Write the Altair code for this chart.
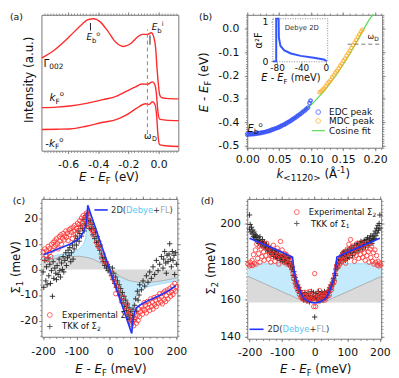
import altair as alt
import pandas as pd

FONT = "DejaVu Sans"
INK = "#111111"
FRAME = "#777777"
RED = "#ff2a2a"
BLUE = "#2233ff"
LBLUE = "#c4eafb"
GRAYF = "#dadada"

# ---------------- panel (a): EDC spectra ----------------
a_g_e = [-0.774, -0.697, -0.588, -0.522, -0.468, -0.431, -0.391, -0.337, -0.282, -0.234, -0.184, -0.140,
         -0.107, -0.074, -0.048, -0.031, -0.020, -0.011, -0.002, 0.007, 0.020, 0.050, 0.133]
a_g_i = [0.683, 0.736, 0.844, 0.916, 0.964, 0.971, 0.952, 0.880, 0.796, 0.767, 0.789, 0.837,
         0.856, 0.856, 0.868, 0.832, 0.760, 0.617, 0.496, 0.412, 0.390, 0.385, 0.381]
a_k_e = [-0.774, -0.675, -0.588, -0.479, -0.369, -0.282, -0.216, -0.150, -0.111, -0.074, -0.041, -0.024,
         -0.015, -0.006, 0.007, 0.046, 0.133]
a_k_i = [0.317, 0.321, 0.329, 0.348, 0.376, 0.400, 0.436, 0.472, 0.491, 0.489, 0.506, 0.484,
         0.424, 0.304, 0.232, 0.225, 0.221]
a_m_e = [-0.774, -0.675, -0.588, -0.479, -0.369, -0.282, -0.216, -0.150, -0.085, -0.063, -0.041, -0.024,
         -0.013, -0.004, 0.007, 0.046, 0.133]
a_m_i = [0.156, 0.158, 0.160, 0.180, 0.209, 0.228, 0.261, 0.309, 0.345, 0.340, 0.360, 0.340,
         0.257, 0.113, 0.045, 0.036, 0.031]
a_wd = -0.074

# ---------------- panel (b): dispersion ----------------
b_edc_k = [0.000, 0.0025, 0.005, 0.0075, 0.010, 0.0125, 0.015, 0.0175, 0.020, 0.0225, 0.025, 0.0275, 0.030,
           0.0325, 0.035, 0.0375, 0.040, 0.0425, 0.045, 0.0475, 0.050, 0.0525, 0.055, 0.0575, 0.060, 0.0625,
           0.065, 0.0675, 0.070, 0.0725, 0.075, 0.0775, 0.080, 0.0825, 0.085, 0.0875, 0.090, 0.0925, 0.095,
           0.0975, 0.099]
b_edc_e = [-0.452, -0.452, -0.452, -0.451, -0.451, -0.450, -0.449, -0.448, -0.447, -0.446, -0.444, -0.443,
           -0.441, -0.439, -0.437, -0.434, -0.432, -0.429, -0.427, -0.424, -0.421, -0.418, -0.414, -0.411,
           -0.407, -0.403, -0.399, -0.395, -0.390, -0.386, -0.381, -0.376, -0.371, -0.366, -0.361, -0.355,
           -0.350, -0.344, -0.338, -0.318, -0.308]
b_mdc_k = [0.113, 0.1155, 0.118, 0.1205, 0.123, 0.1255, 0.128, 0.1305, 0.133, 0.1355, 0.138, 0.1405, 0.143,
           0.1455, 0.148, 0.1505, 0.153, 0.1555, 0.158, 0.1605, 0.163, 0.1655, 0.168, 0.1705, 0.173, 0.1755,
           0.178, 0.180]
b_mdc_e = [-0.272, -0.268, -0.261, -0.255, -0.246, -0.235, -0.227, -0.219, -0.207, -0.199, -0.188, -0.180,
           -0.170, -0.158, -0.149, -0.137, -0.128, -0.115, -0.104, -0.094, -0.082, -0.070, -0.059, -0.048,
           -0.035, -0.024, -0.012, -0.004]
b_fit_k = [0.0, 0.02, 0.04, 0.06, 0.08, 0.10, 0.12, 0.14, 0.16, 0.17, 0.18, 0.19, 0.197]
b_fit_e = [-0.452, -0.447, -0.432, -0.407, -0.371, -0.326, -0.268, -0.196, -0.110, -0.062, -0.012, 0.036, 0.062]
b_wd = -0.066
# inset: Debye 2D alpha^2F
ins_e = [-87, -81.5, -81.5, -77.5, -77.1, -74.5, -68.1, -57.4, -41.3, -19.7, -3.5, 0, 0]
ins_a = [0, 0, 1.08, 1.08, 0.60, 0.39, 0.28, 0.20, 0.14, 0.09, 0.05, 0.02, 0]

# ---------------- panel (c): Sigma_1 ----------------
c_exp = [(-200, 6.8), (-198, 4.2), (-195, 8.0), (-192, 5.5), (-190, 7.2), (-187, 3.8), (-185, 9.0), (-182, 6.5),
         (-180, 8.2), (-177, 5.0), (-175, 9.8), (-172, 7.5), (-170, 10.5), (-167, 8.8), (-165, 11.2), (-162, 9.5),
         (-160, 12.0), (-157, 10.2), (-155, 8.0), (-152, 12.8), (-150, 11.0), (-147, 13.5), (-145, 9.8),
         (-142, 12.2), (-140, 14.0), (-137, 11.5), (-135, 13.0), (-132, 15.0), (-130, 12.5), (-127, 14.2),
         (-125, 11.2), (-122, 15.5), (-120, 13.5), (-117, 16.0), (-115, 14.5), (-112, 12.0), (-110, 16.5),
         (-107, 15.0), (-105, 17.2), (-102, 13.8), (-100, 16.0), (-97, 18.0), (-95, 15.2), (-92, 17.5), (-90, 19.0),
         (-87, 16.5), (-85, 20.0), (-82, 18.2), (-80, 21.0), (-77, 19.5), (-75, 17.0), (-72, 20.5), (-70, 22.0),
         (-67, 19.0), (-65, 21.5), (-62, 20.5), (-60, 17.5), (-57, 16.0), (-55, 18.5), (-52, 15.0), (-50, 13.5),
         (-45, 14.5), (-40, 10.5), (-35, 9.0), (-30, 8.5), (-25, 4.5), (-20, 6.0), (-15, 3.0), (-10, 2.5),
         (5, -1.5), (10, -3.5), (15, -5.0), (18, -9.5), (20, -6.5), (25, -8.0), (30, -10.0), (35, -12.5), (40, -11.0),
         (45, -14.5), (50, -16.0), (52, -13.5), (55, -17.5), (58, -19.0), (60, -16.5), (62, -20.5), (65, -21.5),
         (67, -18.5), (70, -20.0), (72, -22.0), (75, -19.5), (78, -17.5), (80, -21.0), (83, -18.0), (85, -20.0),
         (88, -15.5), (90, -18.5), (93, -16.5), (95, -14.5), (98, -17.5), (100, -15.5), (103, -13.0), (105, -16.0),
         (108, -14.0), (110, -17.0), (113, -12.5), (115, -15.0), (118, -13.5), (120, -16.0), (123, -11.5),
         (125, -14.5), (128, -12.8), (130, -15.5), (133, -11.0), (135, -13.8), (138, -12.0), (140, -14.5),
         (143, -10.5), (145, -13.2), (148, -11.5), (150, -9.5), (153, -12.8), (155, -10.8), (158, -13.5), (160, -9.2),
         (163, -11.8), (165, -8.5), (168, -12.5), (170, -10.2), (173, -8.0), (175, -11.5), (178, -9.2), (180, -7.5),
         (183, -10.5), (185, -8.8), (188, -6.5), (190, -9.8), (193, -7.8), (195, -5.5), (198, -8.5), (200, -6.8)]
c_tkk = [(-200, -1.0), (-198, -7.0), (-195, 3.5), (-192, -4.5), (-190, 1.0), (-188, -6.0), (-185, 4.5), (-183, -2.5),
         (-180, 2.0), (-178, -5.5), (-175, -0.5), (-172, -10.5), (-170, 3.0), (-168, -3.5), (-165, 0.5), (-162, -1.5),
         (-160, -4.0), (-158, 1.5), (-155, -2.0), (-152, 4.0), (-150, -0.5), (-148, -3.0), (-145, 2.5), (-142, 0.0),
         (-140, 5.0), (-138, -1.0), (-135, 3.5), (-132, 6.5), (-130, 1.5), (-127, 4.5), (-125, 7.5), (-122, 5.5),
         (-120, 8.5), (-117, 3.0), (-115, 6.5), (-112, 9.5), (-110, 4.0), (-107, 8.0), (-105, 11.0), (-102, 13.0),
         (-100, 9.5), (-97, 12.0), (-95, 15.0), (-92, 11.0), (-90, 14.0), (-87, 17.0), (-85, 13.0), (-82, 16.0),
         (-80, 19.5), (-77, 15.0), (-75, 18.0), (-72, 21.0), (-70, 17.0), (-68, 20.0), (-65, 22.0), (-63, 18.5),
         (-60, 16.0), (-58, 19.0), (-55, 15.5), (-53, 17.5), (-50, 13.5), (-48, 16.0), (-45, 12.0), (-43, 14.5),
         (-40, 10.5), (-38, 12.8), (-35, 9.0), (-33, 11.0), (-30, 7.5), (-28, 9.5), (-25, 6.0), (-22, 4.5),
         (-20, 3.0), (-17, 4.5), (-15, 1.5), (-12, 3.0), (-10, 0.5), (-7, 2.0), (-5, -0.5), (-2, 1.0),
         (2, -1.0), (5, -2.5), (8, 0.5), (10, -4.0), (12, -1.5), (15, -5.5), (18, -3.0), (20, -7.0), (23, -4.5),
         (25, -8.5), (28, -6.0), (30, -10.0), (33, -7.5), (35, -11.5), (38, -9.0), (40, -13.0), (43, -10.5),
         (45, -14.5), (48, -12.0), (50, -16.0), (53, -13.5), (55, -17.5), (58, -15.0), (60, -19.0), (63, -16.5),
         (65, -20.5), (68, -18.0), (70, -15.5), (72, -19.5), (75, -14.0), (78, -11.5), (80, -16.5), (83, -8.5),
         (85, -12.0), (88, -10.0), (90, -6.0), (95, -8.0), (100, -4.5), (105, -6.5), (110, -2.5), (115, -5.0),
         (120, -1.0), (125, -3.5), (130, 1.0), (135, -2.0), (140, 3.5), (145, -0.5), (150, 2.0), (155, 5.0),
         (160, 0.5), (162, 4.0), (165, 7.0), (168, 2.5), (170, -1.5), (172, 5.5), (175, 3.0), (178, 6.0),
         (180, 10.0), (182, 4.0), (185, 1.0), (188, 7.0), (190, 3.5), (193, 5.5), (195, -2.0), (198, 6.5), (200, 2.0)]
c_line_e = [-198, -180, -160, -140, -120, -100, -90, -80, -75, -70, -66, 0, 66, 70, 75, 80, 90, 100, 120, 140, 160, 180, 199]
c_line_s = [5.7, 6.7, 7.8, 8.7, 9.8, 11.3, 12.4, 14.3, 15.8, 18.6, 25.0, 0.0, -25.0, -19.5, -16.5, -15.0, -14.0,
            -13.2, -11.9, -10.8, -9.5, -8.0, -6.3]
c_fill_e = [-205, -180, -160, -140, -120, -100, -90, -80, -75, -70, -66, -50, -33, -17, 0,
            17, 33, 50, 66, 70, 75, 80, 90, 100, 120, 140, 160, 180, 203]
c_fl = [3.3, 3.9, 4.4, 4.8, 5.0, 5.1, 5.1, 4.9, 4.8, 4.7, 4.6, 4.0, 2.9, 1.5, 0,
        -1.5, -2.9, -4.0, -4.6, -4.7, -4.8, -4.9, -5.1, -5.1, -5.0, -4.8, -4.4, -3.9, -3.3]
c_debye = [4.4, 5.0, 5.5, 6.0, 6.6, 7.4, 8.2, 9.6, 11.0, 14.5, 24.5, 18.5, 12.3, 6.3, 0,
           -6.3, -12.3, -18.5, -24.5, -14.5, -11.0, -9.6, -8.2, -7.4, -6.6, -6.0, -5.5, -5.0, -4.4]

# ---------------- panel (d): Sigma_2 ----------------
d_exp = [(-205, 178.5), (-200, 177.5), (-198, 179.5), (-195, 178.0), (-192, 180.5), (-190, 177.8), (-188, 183.5),
         (-185, 179.0), (-182, 186.0), (-180, 178.5), (-178, 189.0), (-175, 181.5), (-172, 184.0), (-170, 188.0),
         (-168, 179.5), (-165, 186.5), (-162, 182.5), (-160, 190.0), (-157, 185.0), (-155, 180.5), (-152, 187.5),
         (-150, 183.0), (-147, 189.5), (-145, 185.5), (-142, 181.0), (-140, 187.0), (-137, 183.5), (-135, 179.5),
         (-132, 186.0), (-130, 182.5), (-127, 188.5), (-125, 184.0), (-122, 180.0), (-120, 185.5), (-117, 182.0),
         (-115, 187.0), (-112, 183.0), (-110, 178.5), (-107, 184.5), (-105, 190.5), (-102, 181.5), (-100, 186.0),
         (-97, 182.5), (-95, 179.5), (-92, 184.0), (-90, 180.5), (-87, 183.5), (-85, 178.5), (-82, 181.5),
         (-80, 179.0), (-77, 182.0), (-75, 177.5), (-72, 180.0), (-70, 176.5), (-67, 174.0), (-65, 171.0),
         (-62, 172.5), (-60, 168.5), (-57, 166.5), (-55, 169.0), (-52, 164.5), (-50, 166.0), (-47, 162.5),
         (-45, 164.0), (-42, 161.0), (-40, 162.5), (-37, 160.0), (-35, 163.5), (-32, 161.5), (-30, 159.5),
         (-27, 162.0), (-25, 160.5), (-22, 163.5), (-20, 159.0), (-17, 161.5), (-15, 164.0), (-12, 160.0),
         (-10, 162.5), (-7, 159.5), (-5, 161.0), (-3, 156.0), (0, 173.5),
         (3, 156.0), (5, 160.5), (7, 163.0), (10, 159.0), (12, 161.5), (15, 164.5), (17, 160.0), (20, 162.0),
         (22, 159.5), (25, 163.0), (27, 160.5), (30, 162.5), (32, 159.5), (35, 161.0), (37, 163.5), (40, 161.5),
         (42, 164.0), (45, 162.0), (47, 165.5), (50, 167.0), (52, 165.0), (55, 168.0), (57, 170.5), (60, 169.0),
         (62, 173.0), (65, 175.5), (67, 177.5), (70, 179.0), (72, 177.0), (75, 180.5), (77, 178.5), (80, 182.0),
         (82, 179.5), (85, 183.5), (87, 180.5), (90, 185.0), (92, 181.0), (95, 179.0), (97, 184.0), (100, 186.5),
         (102, 182.0), (105, 189.0), (107, 184.5), (110, 191.5), (112, 186.0), (115, 182.5), (117, 188.0),
         (120, 184.5), (122, 180.0), (125, 186.5), (127, 183.0), (130, 189.5), (132, 185.5), (135, 181.5),
         (137, 187.5), (140, 183.5), (142, 190.0), (145, 186.0), (147, 182.0), (150, 188.5), (152, 184.5),
         (155, 180.5), (157, 187.0), (160, 183.0), (162, 189.5), (165, 185.0), (167, 179.5), (170, 186.5),
         (172, 182.0), (175, 188.0), (177, 180.0), (180, 184.5), (182, 178.5), (185, 186.0), (187, 179.5),
         (190, 183.0), (192, 178.0), (195, 180.0), (197, 177.5), (200, 179.0), (203, 178.0)]
d_tkk = [(-200, 204.5), (-200, 197.0), (-198, 199.5), (-196, 195.5), (-194, 198.0), (-192, 194.5), (-190, 196.5),
         (-188, 193.0), (-186, 195.5), (-184, 192.5), (-182, 194.0), (-180, 191.5), (-178, 193.5), (-176, 190.5),
         (-174, 192.5), (-172, 189.5), (-170, 191.0), (-168, 193.0), (-166, 189.0), (-164, 190.5), (-162, 188.0),
         (-160, 191.5), (-158, 189.5), (-156, 187.5), (-154, 190.0), (-152, 188.5), (-150, 186.5), (-148, 189.0),
         (-146, 187.0), (-144, 185.5), (-142, 188.0), (-140, 186.0), (-138, 184.5), (-136, 187.0), (-134, 185.0),
         (-132, 183.5), (-130, 186.0), (-128, 184.5), (-126, 182.5), (-124, 185.0), (-122, 183.5), (-120, 185.5),
         (-118, 182.0), (-116, 184.0), (-114, 181.5), (-112, 183.5), (-110, 185.0), (-108, 182.0), (-106, 180.5),
         (-104, 183.0), (-102, 181.0), (-100, 182.5), (-98, 180.0), (-96, 183.5), (-94, 181.0), (-92, 179.5),
         (-90, 182.0), (-88, 180.5), (-86, 183.0), (-84, 179.0), (-82, 181.5), (-80, 178.5), (-78, 180.0),
         (-76, 182.0), (-74, 177.5), (-72, 179.0), (-70, 175.5), (-68, 177.0), (-66, 172.5), (-64, 174.5),
         (-62, 170.0), (-60, 171.5), (-58, 168.0), (-56, 169.5), (-54, 166.5), (-52, 167.5), (-50, 164.5),
         (-48, 166.0), (-46, 163.0), (-44, 164.5), (-42, 161.5), (-40, 163.0), (-38, 160.5), (-36, 162.0),
         (-34, 159.5), (-32, 161.0), (-30, 163.5), (-28, 160.0), (-26, 162.0), (-24, 159.0), (-22, 161.5),
         (-20, 163.0), (-18, 160.5), (-16, 158.5), (-14, 162.0), (-12, 160.0), (-10, 164.0), (-8, 159.5),
         (-6, 161.5), (-4, 163.5), (-2, 160.5), (0, 150.5),
         (2, 161.0), (4, 163.0), (6, 159.5), (8, 162.0), (10, 160.0), (12, 164.0), (14, 161.0), (16, 159.0),
         (18, 162.5), (20, 160.5), (22, 163.5), (24, 161.0), (26, 159.5), (28, 162.5), (30, 164.0), (32, 160.5),
         (34, 162.5), (36, 161.0), (38, 163.5), (40, 162.0), (42, 164.5), (44, 163.5), (46, 166.0), (48, 165.0),
         (50, 167.5), (52, 166.5), (54, 169.0), (56, 168.0), (58, 171.0), (60, 170.0), (62, 173.5), (64, 172.5),
         (66, 176.0), (68, 178.0), (70, 176.5), (72, 179.5), (74, 181.0), (76, 179.0), (78, 182.5), (80, 180.5),
         (82, 183.0), (84, 181.0), (86, 184.5), (88, 182.5), (90, 185.0), (92, 183.0), (94, 180.5), (96, 185.5),
         (98, 183.5), (100, 181.5), (102, 186.0), (104, 184.0), (106, 182.0), (108, 186.5), (110, 184.5),
         (112, 187.5), (114, 185.0), (116, 183.0), (118, 187.0), (120, 185.5), (122, 188.5), (124, 186.0),
         (126, 184.5), (128, 188.5), (130, 186.5), (132, 189.5), (134, 187.0), (136, 185.5), (138, 189.0),
         (140, 187.5), (142, 190.5), (144, 188.0), (146, 186.5), (148, 190.0), (150, 188.5), (152, 191.0),
         (154, 189.0), (156, 187.5), (158, 191.5), (160, 189.5), (162, 192.5), (164, 190.0), (166, 188.5),
         (168, 192.0), (170, 190.5), (172, 193.5), (174, 191.0), (176, 189.5), (178, 193.0), (180, 191.5),
         (182, 194.5), (184, 192.0), (186, 196.0), (188, 193.5), (190, 197.5), (192, 195.0), (194, 199.0),
         (196, 196.5), (198, 200.0), (200, 197.5), (200, 204.5)]
d_line_e = [-200, -150, -100, -75, -68, -66, -62, -55, -47, -40, -32, -20, -10, 0, 10, 20, 32, 40, 47, 55, 62, 66,
            68, 75, 100, 150, 200]
d_line_s = [192.2, 188.5, 184.8, 182.7, 182.2, 179.0, 174.0, 169.0, 165.0, 162.3, 160.2, 158.8, 158.2, 158.0,
            158.2, 158.8, 160.2, 162.3, 165.0, 169.0, 174.0, 179.0, 182.2, 182.7, 184.8, 188.5, 192.2]
d_fill_e = [-207, -150, -100, -70, -68, -62, -55, -47, -40, -32, -25, -15, 0, 15, 25, 32, 40, 47, 55, 62, 68, 70,
            100, 150, 204]
d_debye = [178.7, 178.7, 178.7, 178.7, 178.5, 173.0, 168.0, 164.5, 162.0, 159.8, 158.8, 158.3, 158.2, 158.3,
           158.8, 159.8, 162.0, 164.5, 168.0, 173.0, 178.5, 178.7, 178.7, 178.7, 178.7]
d_fl = [172.2, 167.8, 163.9, 161.6, 161.5, 161.0, 160.5, 159.8, 159.3, 158.7, 158.2, 158.2, 158.2, 158.2, 158.2,
        158.7, 159.3, 159.8, 160.5, 161.0, 161.5, 161.6, 163.9, 167.8, 172.0]
d_base = 158.2

# ---------------- helpers ----------------
CW = {' ': 0.318, '(': 0.390, ')': 0.390, '+': 0.838, '-': 0.361, '.': 0.318, '<': 0.838, '>': 0.838,
      'A': 0.684, 'C': 0.698, 'D': 0.770, 'E': 0.632, 'F': 0.575, 'I': 0.295, 'K': 0.656, 'L': 0.557,
      'T': 0.611, 'a': 0.613, 'b': 0.635, 'e': 0.615, 'f': 0.352, 'i': 0.278, 'k': 0.579, 'l': 0.278,
      'm': 0.974, 'n': 0.634, 'o': 0.612, 'p': 0.635, 'r': 0.411, 's': 0.521, 't': 0.392, 'u': 0.634,
      'v': 0.592, 'x': 0.592, 'y': 0.592, '\u03a3': 0.632, '\u03c9': 0.878, '\u03b1': 0.659, '\u0393': 0.557,
      '\u00c5': 0.684, '\u00b2': 0.401, '\u0304': 0.0}
for _d in '0123456789':
    CW[_d] = 0.636


def tw(s, size):
    return sum(CW.get(ch, 0.6) for ch in s) * size


def txt(s, x, y, size, angle=0, align='left', baseline='alphabetic', style='normal', color=INK):
    return alt.Chart(pd.DataFrame({'t': [s]})).mark_text(
        align=align, baseline=baseline, angle=angle, font=FONT, fontSize=size, fontStyle=style, color=color
    ).encode(text='t:N', x=alt.value(x), y=alt.value(y))


def rich(pieces, x, y, angle=0, center=True, sx=None, sy=None):
    total = sum(tw(p[0], p[1]) for p in pieces)
    off = -total / 2.0 if center else 0.0
    out = []
    for p in pieces:
        text, size = p[0], p[1]
        shift = p[2] if len(p) > 2 else 0
        style = p[3] if len(p) > 3 else 'normal'
        color = p[4] if len(p) > 4 else INK
        lead = len(text) - len(text.lstrip(' '))
        body = text.strip(' ')
        if body:
            m = alt.Chart(pd.DataFrame({'t': [body], 'x': [x], 'y': [y]})).mark_text(
                align='left', baseline='alphabetic', dx=off + tw(' ' * lead, size), dy=shift, angle=angle,
                font=FONT, fontSize=size, fontStyle=style, color=color)
            if sx is None:
                m = m.encode(text='t:N', x=alt.value(x), y=alt.value(y))
            else:
                m = m.encode(text='t:N', x=alt.X('x:Q', scale=sx, axis=None), y=alt.Y('y:Q', scale=sy, axis=None))
            out.append(m)
        off += tw(text, size)
    return out


def lab_expr(fmt):
    return "replace(format(datum.value,'%s'),'\u2212','-')" % fmt


def mk_axis(orient, vals, size, fmt=None, pad=0, fsize=11, offset=0):
    kw = dict(orient=orient, values=vals, tickSize=size, tickColor=FRAME, tickWidth=0.8, domain=False,
              grid=False, labelOverlap=False, offset=offset)
    if fmt:
        kw.update(labels=True, labelExpr=lab_expr(fmt), labelFont=FONT, labelFontSize=fsize, labelColor=INK,
                  labelPadding=pad, labelFlush=False)
    else:
        kw.update(labels=False)
    return alt.Axis(**kw)


def axis_layers(sx, sy, x0, y0, xmaj, xmin, ymaj, ymin, xfmt, yfmt, xpad, ypad, yticks=True):
    base = alt.Chart(pd.DataFrame({'x': [x0], 'y': [y0]})).mark_point(opacity=0)
    specs = [('bottom', 'left', xmaj, ymaj, 3, xfmt, yfmt), ('bottom', 'left', xmin, ymin, 1.8, None, None),
             ('top', 'right', xmaj, ymaj, 3, None, None), ('top', 'right', xmin, ymin, 1.8, None, None)]
    out = []
    for xo, yo, xv, yv, sz, xf, yf in specs:
        yax = mk_axis(yo, yv, sz, yf, ypad) if yticks else None
        out.append(base.encode(x=alt.X('x:Q', scale=sx, title=None, axis=mk_axis(xo, xv, sz, xf, xpad)),
                               y=alt.Y('y:Q', scale=sy, title=None, axis=yax)))
    return out


def steps(a, b, st):
    n = int(round((b - a) / st))
    return [round(a + st * i, 4) for i in range(n + 1)]


def ef_title(unit, size=12, sub=8.5):
    return [("E", size, 0, 'italic'), (" - ", size), ("E", size, 0, 'italic'), ("F", sub, 3), (" (" + unit + ")", size)]


PLUS = "M-1,0L1,0M0,-1L0,1"

# ================= panel (a) =================
WA, HA = 139, 138
sxa = alt.Scale(domain=[-0.777, 0.131])
sya = alt.Scale(domain=[0.0, 1.0])
a_df = pd.concat([pd.DataFrame({'e': a_g_e, 'i': a_g_i, 's': 'g'}),
                  pd.DataFrame({'e': a_k_e, 'i': a_k_i, 's': 'k'}),
                  pd.DataFrame({'e': a_m_e, 'i': a_m_i, 's': 'm'})])
XA = lambda f: alt.X(f, scale=sxa, axis=None)
YA = lambda f: alt.Y(f, scale=sya, axis=None)
la = [alt.Chart(a_df).mark_line(color=RED, strokeWidth=1.4, interpolate='monotone').encode(
    x=XA('e:Q'), y=YA('i:Q'), detail='s:N')]
la.append(alt.Chart(pd.DataFrame({'x': [a_wd], 'y': [0.122], 'y2': [0.892]})).mark_rule(
    color='#888888', strokeDash=[4, 3], strokeWidth=1).encode(x=XA('x:Q'), y=YA('y:Q'), y2='y2:Q'))
la.append(alt.Chart(pd.DataFrame({'x': [-0.452, -0.057], 'y': [0.885, 0.78], 'y2': [0.94, 0.849]})).mark_rule(
    color='#222222', strokeWidth=1).encode(x=XA('x:Q'), y=YA('y:Q'), y2='y2:Q'))
la += rich([("\u0393", 10.5), ("002", 7.5, 2.5)], -0.763, 0.619, center=False, sx=sxa, sy=sya)
la += rich([("k", 10.5, 0, 'italic'), ("F", 7.5, 2.5), ("o", 7, -5)], -0.723, 0.365, center=False, sx=sxa, sy=sya)
la += rich([("-", 10.5), ("k", 10.5, 0, 'italic'), ("F", 7.5, 2.5), ("o", 7, -5)], -0.752, 0.029, center=False,
           sx=sxa, sy=sya)
la += rich([("E", 9, 0, 'italic'), ("b", 7, 2.5), ("o", 6.5, -4.5)], -0.479, 0.813, center=False, sx=sxa, sy=sya)
la += rich([("E", 9, 0, 'italic'), ("b", 7, 2.5), ("i", 6.5, -4.5)], -0.046, 0.885, center=False, sx=sxa, sy=sya)
la += rich([("\u03c9", 9), ("D", 6.5, 2.5)], -0.096, 0.086, center=False, sx=sxa, sy=sya)
la += rich(ef_title("eV"), 68, 169)
la.append(txt("Intensity (a.u.)", -9, 66, 12, angle=270, align='center'))
la.append(txt("(a)", -32, -3, 9.5, baseline='top'))
la += axis_layers(sxa, sya, -0.7, 0.5, [-0.6, -0.4, -0.2, 0.0], steps(-0.76, 0.12, 0.02), None, None,
                  '.1f', None, 5, 0, yticks=False)
pa = alt.layer(*la).resolve_scale(x='independent', y='independent').properties(width=WA, height=HA)

# ================= panel (b) =================
WB, HB = 137, 135
sxb = alt.Scale(domain=[0.0, 0.211])
syb = alt.Scale(domain=[-0.51, 0.06])
XB = lambda f: alt.X(f, scale=sxb, axis=None)
YB = lambda f: alt.Y(f, scale=syb, axis=None)
lb = [alt.Chart(pd.DataFrame({'k': b_fit_k, 'e': b_fit_e})).mark_line(color='#55dd55', strokeWidth=1.2).encode(
    x=XB('k:Q'), y=YB('e:Q'))]
lb.append(alt.Chart(pd.DataFrame({'k': b_edc_k, 'e': b_edc_e})).mark_point(
    shape='circle', filled=False, size=12, strokeWidth=1.5, color='#3048ff').encode(x=XB('k:Q'), y=YB('e:Q')))
lb.append(alt.Chart(pd.DataFrame({'k': b_mdc_k, 'e': b_mdc_e})).mark_point(
    shape='circle', filled=False, size=12, strokeWidth=1.3, color='#ffaa22').encode(x=XB('k:Q'), y=YB('e:Q')))
lb.append(alt.Chart(pd.DataFrame({'x': [0.157], 'x2': [0.211], 'y': [b_wd]})).mark_rule(
    color='#777777', strokeDash=[4, 3], strokeWidth=1).encode(x=XB('x:Q'), x2='x2:Q', y=YB('y:Q')))
lb += rich([("\u03c9", 8), ("D", 6, 2)], 0.188, -0.045, center=False, sx=sxb, sy=syb)
lb += rich([("E", 10, 0, 'italic'), ("b", 7.5, 2.5), ("o", 7, -5)], 0.0005, -0.441, center=False, sx=sxb, sy=syb)
# legend (b)
lb.append(alt.Chart(pd.DataFrame({'x': [0.111], 'y': [-0.357]})).mark_point(
    shape='circle', filled=False, size=22, strokeWidth=1, color='#3048ff').encode(x=XB('x:Q'), y=YB('y:Q')))
lb.append(alt.Chart(pd.DataFrame({'x': [0.111], 'y': [-0.395]})).mark_point(
    shape='circle', filled=False, size=22, strokeWidth=1, color='#ffaa22').encode(x=XB('x:Q'), y=YB('y:Q')))
lb.append(alt.Chart(pd.DataFrame({'x': [0.101], 'x2': [0.1215], 'y': [-0.437]})).mark_rule(
    color='#55dd55', strokeWidth=1.2).encode(x=XB('x:Q'), x2='x2:Q', y=YB('y:Q')))
b_leg = pd.DataFrame({'t': ["EDC peak", "MDC peak", "Cosine fit"], 'x': [0.128] * 3, 'y': [-0.357, -0.395, -0.437]})
lb.append(alt.Chart(b_leg).mark_text(align='left', baseline='middle', font=FONT, fontSize=9, color=INK).encode(
    text='t:N', x=XB('x:Q'), y=YB('y:Q')))
# inset
sxi = alt.Scale(domain=[-87, 3], range=[26, 81.7])
syi = alt.Scale(domain=[-0.01, 1.08], range=[47.7, 4])
XI = lambda f: alt.X(f, scale=sxi, axis=None)
YI = lambda f: alt.Y(f, scale=syi, axis=None)
lb.append(alt.Chart(pd.DataFrame({'x': [-87], 'x2': [3], 'y': [-0.01], 'y2': [1.08]})).mark_rect(
    fill='white', stroke='#888888', strokeDash=[1, 1.5], strokeWidth=1).encode(
    x=XI('x:Q'), x2='x2:Q', y=YI('y:Q'), y2='y2:Q'))
lb.append(alt.Chart(pd.DataFrame({'e': ins_e, 'a': ins_a, 'o': list(range(len(ins_e)))})).mark_line(
    color='#3355ff', strokeWidth=2).encode(x=XI('e:Q'), y=YI('a:Q'), order='o:Q'))
lb.append(alt.Chart(pd.DataFrame({'t': ["Debye 2D"], 'x': [-39.5], 'y': [0.85]})).mark_text(
    align='center', baseline='middle', font=FONT, fontSize=7, color='#333333').encode(
    text='t:N', x=XI('x:Q'), y=YI('y:Q')))
lb.append(alt.Chart(pd.DataFrame({'x': [-87.0], 'y': [0.0]})).mark_point(opacity=0).encode(
    x=alt.X('x:Q', scale=sxi, title=None, axis=mk_axis('bottom', [-80, -40, 0], 2, 'd', 0, 9, offset=47.7 - HB)),
    y=alt.Y('y:Q', scale=syi, title=None, axis=mk_axis('left', [0, 1], 2, 'd', 3, 9.5, offset=-26))))
lb.append(txt("\u03b1\u00b2F", 15, 26, 10, angle=270, align='center'))
lb += rich(ef_title("meV", 10, 7), 44, 67.5)
# titles (b)
lb += rich([("k", 12, 0, 'italic'), ("<112\u03040>", 9, 3), (" (\u00c5", 12), ("-1", 8.5, -5), (")", 12)], 67, 166)
lb += rich(ef_title("eV"), -40, 69, angle=270)
lb.append(txt("(b)", -49, -3, 9.5, baseline='top'))
lb += axis_layers(sxb, syb, 0.1, -0.2, [0.0, 0.05, 0.10, 0.15, 0.20], steps(0.0, 0.21, 0.01),
                  [-0.5, -0.4, -0.3, -0.2, -0.1, 0.0], steps(-0.51, 0.06, 0.01), '.2f', '.1f', 3, 5.5)
pb = alt.layer(*lb).resolve_scale(x='independent', y='independent').properties(width=WB, height=HB)

# ================= panel (c) =================
WC, HC = 138, 140
sxc = alt.Scale(domain=[-205, 203])
syc = alt.Scale(domain=[-26.3, 27.5])
XC = lambda f: alt.X(f, scale=sxc, axis=None)
YC = lambda f: alt.Y(f, scale=syc, axis=None)
c_fill = pd.DataFrame({'e': c_fill_e, 'fl': c_fl, 'db': c_debye, 'z': [0.0] * len(c_fill_e)})
lc = [alt.Chart(c_fill).mark_area(color=GRAYF).encode(x=XC('e:Q'), y=YC('fl:Q'), y2='z:Q'),
      alt.Chart(c_fill).mark_area(color=LBLUE).encode(x=XC('e:Q'), y=YC('db:Q'), y2='fl:Q'),
      alt.Chart(c_fill).mark_line(color='#a0a0a0', strokeWidth=0.8).encode(x=XC('e:Q'), y=YC('fl:Q')),
      alt.Chart(c_fill).mark_line(color='#8fd3f3', strokeWidth=0.8).encode(x=XC('e:Q'), y=YC('db:Q'))]
c_exp_df = pd.DataFrame(c_exp, columns=['e', 's'])
c_tkk_df = pd.DataFrame(c_tkk, columns=['e', 's'])
lc.append(alt.Chart(c_tkk_df).mark_point(shape=PLUS, filled=False, size=30, strokeWidth=0.9, color='#222222',
                                         opacity=1).encode(x=XC('e:Q'), y=YC('s:Q')))
lc.append(alt.Chart(c_exp_df).mark_point(shape='circle', filled=False, size=20, strokeWidth=0.9, color='#ff3030',
                                         opacity=0.9).encode(x=XC('e:Q'), y=YC('s:Q')))
lc.append(alt.Chart(pd.DataFrame({'e': c_line_e, 's': c_line_s})).mark_line(color=BLUE, strokeWidth=1.6).encode(
    x=XC('e:Q'), y=YC('s:Q')))
# legend (c)
lc.append(alt.Chart(pd.DataFrame({'x': [-180], 'y': [-17.8]})).mark_point(
    shape='circle', filled=False, size=24, strokeWidth=1, color='#ff3030').encode(x=XC('x:Q'), y=YC('y:Q')))
lc.append(alt.Chart(pd.DataFrame({'x': [-180], 'y': [-22.3]})).mark_point(
    shape=PLUS, filled=False, size=30, strokeWidth=1, color='#222222').encode(x=XC('x:Q'), y=YC('y:Q')))
lc += rich([("Experimental \u03a3", 8.5), ("1", 6, 2)], -143, -18.95, center=False, sx=sxc, sy=syc)
lc += rich([("TKK of \u03a3", 8.5), ("2", 6, 2)], -143, -23.45, center=False, sx=sxc, sy=syc)
lc.append(alt.Chart(pd.DataFrame({'x': [-46], 'x2': [-6], 'y': [23.2]})).mark_rule(
    color=BLUE, strokeWidth=1.6).encode(x=XC('x:Q'), x2='x2:Q', y=YC('y:Q')))
DFL = [("2D(", 8.5, 0, 'normal', '#333333'), ("Debye", 8.5, 0, 'normal', '#55c8f5'), ("+", 8.5, 0, 'normal', '#333333'),
       ("FL", 8.5, 0, 'normal', '#a8a8a8'), (")", 8.5, 0, 'normal', '#333333')]
lc += rich(DFL, 4, 22.05, center=False, sx=sxc, sy=syc)
# titles (c)
lc += rich(ef_title("meV"), 70, 177)
lc += rich([("\u03a3", 12), ("1", 8.5, 3), (" (meV)", 12)], -22, 70, angle=270)
lc.append(txt("(c)", -29.3, 5, 9.5))
lc += axis_layers(sxc, syc, 0, 0, [-200, -100, 0, 100, 200], steps(-200, 200, 20),
                  [-20, -10, 0, 10, 20], steps(-26, 26, 2), 'd', 'd', 6, 1)
pc = alt.layer(*lc).resolve_scale(x='independent', y='independent').properties(width=WC, height=HC)

# ================= panel (d) =================
WD, HD = 136, 142
sxd = alt.Scale(domain=[-207, 204])
syd = alt.Scale(domain=[139, 213])
XD = lambda f: alt.X(f, scale=sxd, axis=None)
YD = lambda f: alt.Y(f, scale=syd, axis=None)
d_fill = pd.DataFrame({'e': d_fill_e, 'fl': d_fl, 'db': d_debye, 'z': [d_base] * len(d_fill_e)})
ld = [alt.Chart(d_fill).mark_area(color=GRAYF).encode(x=XD('e:Q'), y=YD('fl:Q'), y2='z:Q'),
      alt.Chart(d_fill).mark_area(color=LBLUE).encode(x=XD('e:Q'), y=YD('db:Q'), y2='fl:Q'),
      alt.Chart(d_fill).mark_line(color='#a0a0a0', strokeWidth=0.8).encode(x=XD('e:Q'), y=YD('fl:Q')),
      alt.Chart(d_fill).mark_line(color='#8fd3f3', strokeWidth=0.8).encode(x=XD('e:Q'), y=YD('db:Q'))]
d_exp_df = pd.DataFrame(d_exp, columns=['e', 's'])
d_tkk_df = pd.DataFrame(d_tkk, columns=['e', 's'])
ld.append(alt.Chart(d_tkk_df).mark_point(shape=PLUS, filled=False, size=30, strokeWidth=0.9, color='#222222',
                                         opacity=1).encode(x=XD('e:Q'), y=YD('s:Q')))
ld.append(alt.Chart(d_exp_df).mark_point(shape='circle', filled=False, size=20, strokeWidth=0.9, color='#ff3030',
                                         opacity=0.9).encode(x=XD('e:Q'), y=YD('s:Q')))
ld.append(alt.Chart(pd.DataFrame({'e': d_line_e, 's': d_line_s})).mark_line(color=BLUE, strokeWidth=1.6).encode(
    x=XD('e:Q'), y=YD('s:Q')))
# legend (d)
ld.append(alt.Chart(pd.DataFrame({'x': [-55], 'y': [206]})).mark_point(
    shape='circle', filled=False, size=24, strokeWidth=1, color='#ff3030').encode(x=XD('x:Q'), y=YD('y:Q')))
ld.append(alt.Chart(pd.DataFrame({'x': [-55], 'y': [200]})).mark_point(
    shape=PLUS, filled=False, size=30, strokeWidth=1, color='#222222').encode(x=XD('x:Q'), y=YD('y:Q')))
ld += rich([("Experimental \u03a3", 8.5), ("2", 6, 2)], -18.4, 204.4, center=False, sx=sxd, sy=syd)
ld += rich([("TKK of \u03a3", 8.5), ("1", 6, 2)], -11.5, 198.4, center=False, sx=sxd, sy=syd)
ld.append(alt.Chart(pd.DataFrame({'x': [-200], 'x2': [-157], 'y': [144]})).mark_rule(
    color=BLUE, strokeWidth=1.6).encode(x=XD('x:Q'), x2='x2:Q', y=YD('y:Q')))
ld += rich(DFL, -145, 142.4, center=False, sx=sxd, sy=syd)
# titles (d)
ld += rich(ef_title("meV"), 69, 177)
ld += rich([("\u03a3", 12), ("2", 8.5, 3), (" (meV)", 12)], -33, 71, angle=270)
ld.append(txt("(d)", -47.3, 5, 9.5))
ld += axis_layers(sxd, syd, 0, 160, [-200, -100, 0, 100, 200], steps(-200, 200, 20),
                  [140, 160, 180, 200], steps(140, 212, 2), 'd', 'd', 5, 4)
pdd = alt.layer(*ld).resolve_scale(x='independent', y='independent').properties(width=WD, height=HD)

chart = alt.concat(pa, pb, pc, pdd, columns=2, spacing={"row": 49, "column": 70}, bounds='flush').properties(
    padding={"left": 1, "top": 0, "right": 0, "bottom": 0}
).configure_view(stroke=FRAME, strokeWidth=1)

chart.save("out.html", embed_options={"renderer": "svg", "actions": False})
